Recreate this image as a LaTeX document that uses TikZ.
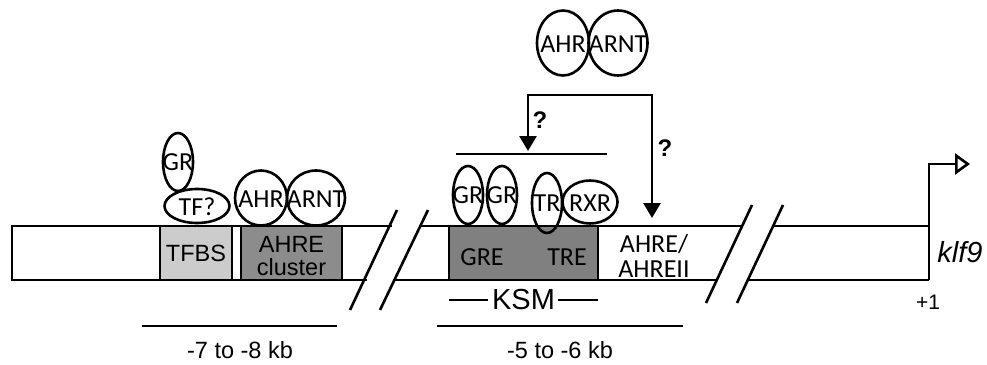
\documentclass[tikz,border=0pt]{standalone}
\usepackage{fontspec}
\setmainfont{Liberation Sans}
\newfontfamily\carl{Carlito}
\usetikzlibrary{shapes.geometric,arrows.meta}
\begin{document}
\begin{tikzpicture}[x=1pt,y=-1pt,line width=2.6pt,
  prot/.style={draw,ellipse,inner sep=0pt},
  ptxt/.style={inner sep=0pt,font=\carl\fontsize{26}{26}\selectfont},
  ctxt/.style={inner sep=0pt,font=\carl\fontsize{26}{29}\selectfont,align=center},
  atxt/.style={inner sep=0pt,font=\fontsize{23.5}{26}\selectfont,align=center},
  site/.style={draw,rectangle,inner sep=0pt,minimum height=54pt},
  qm/.style={inner sep=0pt,font=\bfseries\fontsize{24}{24}\selectfont},
  tip/.style={-{Triangle[length=15pt,width=17pt]}}]
\useasboundingbox (0,0) rectangle (987,364);
% bar coordinates
\coordinate (l0t) at (12,226); \coordinate (l0b) at (12,280);
\coordinate (l1t) at (392,226); \coordinate (l1b) at (367,280);
\coordinate (m0t) at (420,226); \coordinate (m0b) at (394,280);
\coordinate (m1t) at (742,226); \coordinate (m1b) at (717,280);
\coordinate (r0t) at (773,226); \coordinate (r0b) at (748,280);
\coordinate (r1t) at (929,226); \coordinate (r1b) at (929,280);
\coordinate (tss) at (929,164); \coordinate (tsse) at (970,164);
% bar
\draw (l1t) -- (l0t) -- (l0b) -- (l1b);
\draw (m0t) -- (m1t); \draw (m0b) -- (m1b);
\draw (r0t) -- (r1t); \draw (r0b) -- (r1b);
\draw[-{Triangle[open,length=15pt,width=21pt]}] (r1b) -- (tss) -- (tsse);
% break slashes
\coordinate (s1a) at (350,310); \coordinate (s1b) at (397,210);
\coordinate (s2a) at (380,310); \coordinate (s2b) at (428,210);
\coordinate (s3a) at (706,303); \coordinate (s3b) at (752,205);
\coordinate (s4a) at (737,303); \coordinate (s4b) at (783,205);
\draw (s1a) -- (s1b); \draw (s2a) -- (s2b);
\draw (s3a) -- (s3b); \draw (s4a) -- (s4b);
% sites
\node[site,fill=black!20,minimum width=72pt] (tfbs) at (196,253) {};
\node[atxt] (tfbsT) at (196,253) {TFBS};
\node[site,fill=black!45,minimum width=101pt] (ahre) at (291.5,253) {};
\node[atxt] (ahreT) at (291.5,256) {AHRE\\[-3pt]cluster};
\node[site,fill=black!50,minimum width=149pt] (ksm) at (523.5,253) {};
\node[ctxt] (gre) at (482,257) {GRE};
\node[ctxt] (tre) at (567,257) {TRE};
\node[ctxt] (ahreii) at (654,256) {AHRE/\\[-4pt]AHREII};
% proteins, distal
\node[prot,minimum width=30pt,minimum height=58pt] (gr0) at (178,162) {};
\node[ptxt] (gr0T) at (178,162) {GR};
\node[prot,minimum width=65pt,minimum height=34pt] (tf) at (197,206) {};
\node[ptxt] (tfT) at (197,207) {TF?};
\node[prot,minimum width=52pt,minimum height=55pt] (ahr1) at (261,198) {};
\node[ptxt] (ahr1T) at (261,199) {AHR};
\node[prot,minimum width=58pt,minimum height=55pt] (arnt1) at (316,198) {};
\node[ptxt] (arnt1T) at (316,199) {ARNT};
% proteins, KSM
\node[prot,minimum width=30pt,minimum height=58pt] (gr1) at (468,195) {};
\node[ptxt] (gr1T) at (468,195) {GR};
\node[prot,minimum width=30pt,minimum height=58pt] (gr2) at (502,195) {};
\node[ptxt] (gr2T) at (502,195) {GR};
\node[prot,minimum width=30pt,minimum height=60pt] (tr) at (547,203) {};
\node[ptxt] (trT) at (547,203) {TR};
\node[prot,minimum width=55pt,minimum height=43pt] (rxr) at (590,202) {};
\node[ptxt] (rxrT) at (590,203) {RXR};
% free AHR/ARNT
\node[prot,minimum width=52pt,minimum height=65pt] (ahr2) at (563,43) {};
\node[ptxt] (ahr2T) at (563,44) {AHR};
\node[prot,minimum width=59pt,minimum height=65pt] (arnt2) at (618,43) {};
\node[ptxt] (arnt2T) at (618,44) {ARNT};
% arrows
\coordinate (kl) at (456,154); \coordinate (kr) at (607,154);
\draw (kl) -- (kr);
\coordinate (al) at (528,95); \coordinate (ar) at (652,95);
\coordinate (altip) at (528,151); \coordinate (artip) at (652,218);
\draw[tip] (ar) -- (al) -- (altip);
\draw[tip] (al) -- (ar) -- (artip);
\node[qm] (q1) at (540,120) {?};
\node[qm] (q2) at (665,148) {?};
% KSM label
\node[inner sep=0pt,font=\fontsize{29}{29}\selectfont] (ksmT) at (523.5,300) {KSM};
\coordinate (k1) at (449,300); \coordinate (k2) at (488,300);
\coordinate (k3) at (558,300); \coordinate (k4) at (598,300);
\draw (k1) -- (k2); \draw (k3) -- (k4);
% kb scales
\coordinate (b1) at (142,326); \coordinate (b2) at (337,326);
\coordinate (b3) at (437,326); \coordinate (b4) at (683,326);
\draw (b1) -- (b2); \draw (b3) -- (b4);
\node[atxt] (kb1) at (240,350) {-7 to -8 kb};
\node[atxt] (kb2) at (560,350) {-5 to -6 kb};
% gene
\node[inner sep=0pt,font=\itshape\fontsize{29}{29}\selectfont] (klf) at (960,252) {klf9};
\node[inner sep=0pt,font=\fontsize{21}{21}\selectfont] (plus) at (928,302) {+1};
\end{tikzpicture}
\end{document}
